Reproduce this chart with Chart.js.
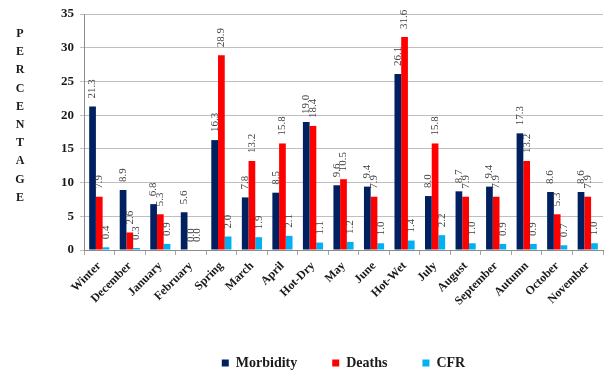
<!DOCTYPE html>
<html>
<head>
<meta charset="utf-8">
<script src="https://cdn.jsdelivr.net/npm/chart.js@4/dist/chart.umd.min.js"></script>
<style>
  html, body { margin: 0; padding: 0; background: #ffffff; }
  #wrap { width: 611px; height: 374px; }
</style>
</head>
<body>
<div id="wrap"><canvas id="c" width="611" height="374"></canvas></div>
<script>
// Seasons and months
const categories = ['Winter', 'December', 'January', 'February', 'Spring', 'March', 'April',
  'Hot-Dry', 'May', 'June', 'Hot-Wet', 'July', 'August', 'September', 'Autumn', 'October', 'November'];

// Percentages per period
const morbidity = [21.3, 8.9, 6.8, 5.6, 16.3, 7.8, 8.5, 19.0, 9.6, 9.4, 26.1, 8.0, 8.7, 9.4, 17.3, 8.6, 8.6];
const deaths    = [7.9, 2.6, 5.3, 0.0, 28.9, 13.2, 15.8, 18.4, 10.5, 7.9, 31.6, 15.8, 7.9, 7.9, 13.2, 5.3, 7.9];
const cfr       = [0.4, 0.3, 0.9, 0.0, 2.0, 1.9, 2.1, 1.1, 1.2, 1.0, 1.4, 2.2, 1.0, 0.9, 0.9, 0.7, 1.0];

const seriesNames = ['Morbidity', 'Deaths', 'CFR'];
const yMin = 0, yMax = 35, yStep = 5;
const yTitle = 'PERCENTAGE';

const SERIF = '"Liberation Serif", "Times New Roman", serif';

// Vertical value labels above each bar
const valueLabels = {
  id: 'valueLabels',
  afterDatasetsDraw(chart) {
    const ctx = chart.ctx;
    ctx.save();
    ctx.font = '11px ' + SERIF;
    ctx.fillStyle = '#404040';
    ctx.textAlign = 'left';
    ctx.textBaseline = 'middle';
    chart.data.datasets.forEach((ds, di) => {
      const meta = chart.getDatasetMeta(di);
      meta.data.forEach((bar, i) => {
        ctx.save();
        ctx.translate(bar.x, bar.y - 8);
        ctx.rotate(-Math.PI / 2);
        ctx.fillText(ds.data[i].toFixed(1), 0, 0);
        ctx.restore();
      });
    });
    ctx.restore();
  }
};

// Stacked-letter axis title on the left
const stackedTitle = {
  id: 'stackedTitle',
  afterDraw(chart) {
    const ctx = chart.ctx;
    ctx.save();
    ctx.font = 'bold 12px ' + SERIF;
    ctx.fillStyle = '#1a1a1a';
    ctx.textAlign = 'center';
    ctx.textBaseline = 'middle';
    const letters = yTitle.split('');
    letters.forEach((ch, i) => {
      ctx.fillText(ch, 20, 34 + i * 18.2);
    });
    ctx.restore();
  }
};

const colors = ['#002060', '#FF0000', '#00B0F0'];
const seriesData = [morbidity, deaths, cfr];

new Chart(document.getElementById('c'), {
  type: 'bar',
  data: {
    labels: categories,
    datasets: seriesNames.map((name, k) => ({
      label: name,
      data: seriesData[k],
      backgroundColor: colors[k],
      borderWidth: 0,
      categoryPercentage: 0.66,
      barPercentage: 1.0
    }))
  },
  options: {
    responsive: false,
    animation: false,
    devicePixelRatio: 1,
    layout: { padding: { top: 14, right: 8, left: 0, bottom: -6 } },
    plugins: {
      legend: {
        position: 'bottom',
        fullSize: false,
        labels: {
          boxWidth: 7,
          boxHeight: 7,
          padding: 35,
          color: '#1a1a1a',
          font: { family: SERIF, size: 14, weight: 'bold' }
        }
      },
      tooltip: { enabled: false }
    },
    scales: {
      x: {
        grid: {
          offset: true,
          drawOnChartArea: false,
          drawTicks: true,
          tickLength: 5,
          color: '#a6a6a6'
        },
        border: { color: '#8c8c8c' },
        ticks: {
          maxRotation: 45,
          minRotation: 45,
          autoSkip: false,
          padding: 4,
          color: '#1a1a1a',
          font: { family: SERIF, size: 12, weight: 'bold' }
        },
        afterFit(scale) { scale.height = 71; }
      },
      y: {
        min: yMin,
        max: yMax,
        ticks: {
          stepSize: yStep,
          padding: 6,
          color: '#1a1a1a',
          font: { family: SERIF, size: 13, weight: 'bold' }
        },
        grid: {
          color: '#bfbfbf',
          tickLength: 4,
          drawTicks: true
        },
        border: { color: '#8c8c8c' },
        afterFit(scale) { scale.width = 84; }
      }
    }
  },
  plugins: [valueLabels, stackedTitle]
});
</script>
</body>
</html>
